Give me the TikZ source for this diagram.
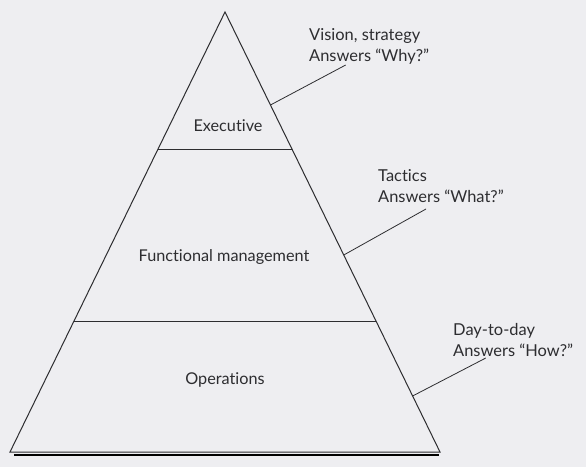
\documentclass[tikz,border=0pt]{standalone}
\usepackage{fontspec}
\setmainfont{Lato}[Ligatures=NoCommon]
\usetikzlibrary{calc}
\definecolor{paper}{RGB}{238,238,241}
\definecolor{ink}{RGB}{45,45,48}
\definecolor{shade}{RGB}{212,212,215}
\tikzset{
  edge/.style={draw=ink, line width=1bp},
  leader/.style={draw=ink, line width=0.8bp},
  level/.style={text=ink, font=\fontsize{16.3}{19}\selectfont, inner sep=0pt},
  note/.style={text=ink, font=\fontsize{16.5}{21}\selectfont, align=left, anchor=west, inner sep=0pt}
}
\begin{document}
\begin{tikzpicture}[x=1bp, y=-1bp]
  \useasboundingbox[fill=paper] (0,0) rectangle (586,467);

  % pyramid corners
  \coordinate (apex) at (225,12);
  \coordinate (bl) at (10,452);
  \coordinate (br) at (440,452);

  % soft shadow under the base
  \draw[shade, line width=2bp] ($(bl)+(4,2.8)$) -- ($(br)+(-1,2.8)$);

  % outline and tier dividers
  \draw[edge, line join=miter] (apex) -- (bl) -- (br) -- cycle;
  \coordinate (d1l) at ($(apex)!0.3136!(bl)$);
  \coordinate (d1r) at ($(apex)!0.3136!(br)$);
  \coordinate (d2l) at ($(apex)!0.7023!(bl)$);
  \coordinate (d2r) at ($(apex)!0.7023!(br)$);
  \draw[edge] (d1l) -- (d1r);
  \draw[edge] (d2l) -- (d2r);

  % tier names
  \node[level] (exec) at (228,126) {Executive};
  \node[level] (func) at (224,257) {Functional management};
  \node[level] (oper) at (225,380) {Operations};

  % side notes
  \node[note] (why) at (309,46.5) {Vision, strategy\\Answers “Why?”};
  \node[note] (what) at (378,186.4) {Tactics\\Answers “What?”};
  \node[note] (how) at (453,340) {Day-to-day\\Answers “How?”};

  % leader lines from the notes to the pyramid edge
  \coordinate (whytail) at (345.7,65);
  \coordinate (whattail) at (426,209);
  \coordinate (howtail) at (485.8,358);
  \coordinate (whyhit) at ($(apex)!0.2114!(br)$);
  \coordinate (whathit) at ($(apex)!0.5523!(br)$);
  \coordinate (howhit) at ($(apex)!0.8727!(br)$);
  \draw[leader] (whytail) -- (whyhit);
  \draw[leader] (whattail) -- (whathit);
  \draw[leader] (howtail) -- (howhit);
\end{tikzpicture}
\end{document}
